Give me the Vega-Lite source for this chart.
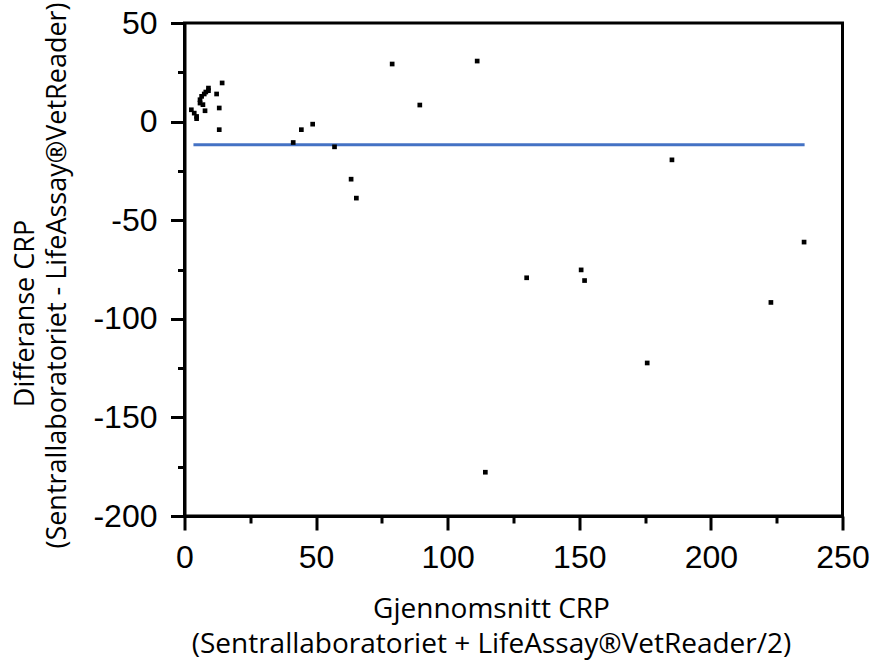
{
  "$schema": "https://vega.github.io/schema/vega-lite/v6.json",
  "autosize": "none",
  "width": 658,
  "height": 493,
  "padding": {"left": 184.5, "top": 23, "right": 33.5, "bottom": 152},
  "background": "white",
  "config": {
    "view": {"stroke": "black", "strokeWidth": 3},
    "axis": {
      "domainColor": "black",
      "domainWidth": 3,
      "tickColor": "black",
      "tickWidth": 3,
      "grid": false,
      "labelFont": "Liberation Sans",
      "labelFontSize": 32,
      "labelColor": "black",
      "titleFont": "Open Sans",
      "titleFontWeight": "normal",
      "titleColor": "black"
    }
  },
  "datasets": {
    "points": [
      {"mean_crp": 2.6, "diff_crp": 6.0},
      {"mean_crp": 3.7, "diff_crp": 4.3},
      {"mean_crp": 4.6, "diff_crp": 2.6},
      {"mean_crp": 4.6, "diff_crp": 1.5},
      {"mean_crp": 5.9, "diff_crp": 11.1},
      {"mean_crp": 5.9, "diff_crp": 9.4},
      {"mean_crp": 6.5, "diff_crp": 12.8},
      {"mean_crp": 7.0, "diff_crp": 8.6},
      {"mean_crp": 7.5, "diff_crp": 14.0},
      {"mean_crp": 7.8, "diff_crp": 5.5},
      {"mean_crp": 8.1, "diff_crp": 15.0},
      {"mean_crp": 9.1, "diff_crp": 17.0},
      {"mean_crp": 9.1, "diff_crp": 15.7},
      {"mean_crp": 12.2, "diff_crp": 14.0},
      {"mean_crp": 13.2, "diff_crp": 6.9},
      {"mean_crp": 14.3, "diff_crp": 19.6},
      {"mean_crp": 13.2, "diff_crp": -4.1},
      {"mean_crp": 41.3, "diff_crp": -10.6},
      {"mean_crp": 44.4, "diff_crp": -4.1},
      {"mean_crp": 48.7, "diff_crp": -1.3},
      {"mean_crp": 57.0, "diff_crp": -12.8},
      {"mean_crp": 63.3, "diff_crp": -29.2},
      {"mean_crp": 65.3, "diff_crp": -38.8},
      {"mean_crp": 78.9, "diff_crp": 29.2},
      {"mean_crp": 89.4, "diff_crp": 8.4},
      {"mean_crp": 111.2, "diff_crp": 30.7},
      {"mean_crp": 114.3, "diff_crp": -177.8},
      {"mean_crp": 130.0, "diff_crp": -79.2},
      {"mean_crp": 150.7, "diff_crp": -75.2},
      {"mean_crp": 152.0, "diff_crp": -80.6},
      {"mean_crp": 175.8, "diff_crp": -122.4},
      {"mean_crp": 185.2, "diff_crp": -19.4},
      {"mean_crp": 222.8, "diff_crp": -91.7},
      {"mean_crp": 235.4, "diff_crp": -61.1}
    ],
    "meanline": [
      {"mean_crp": 3.4, "mean_crp_end": 235.6, "diff_crp": -11.7}
    ]
  },
  "resolve": {"axis": {"y": "independent"}},
  "layer": [
    {
      "data": {"name": "meanline"},
      "mark": {"type": "rule", "color": "#4472C4", "strokeWidth": 3},
      "encoding": {
        "x": {
          "field": "mean_crp",
          "type": "quantitative",
          "scale": {"domain": [0, 250], "nice": false, "zero": false},
          "title": ["Gjennomsnitt CRP", "(Sentrallaboratoriet + LifeAssay®VetReader/2)"]
        },
        "x2": {"field": "mean_crp_end"},
        "y": {
          "field": "diff_crp",
          "type": "quantitative",
          "scale": {"domain": [-200, 50], "nice": false, "zero": false},
          "title": "Differanse CRP",
          "axis": {
            "orient": "left",
            "domain": false,
            "ticks": false,
            "labels": false,
            "titleFontSize": 27,
            "titleAngle": -90,
            "titleAlign": "center",
            "titleBaseline": "alphabetic",
            "titleX": -151,
            "titleY": 290
          }
        }
      }
    },
    {
      "data": {"name": "points"},
      "mark": {"type": "square", "color": "black", "filled": true, "opacity": 1, "size": 22},
      "encoding": {
        "x": {
          "field": "mean_crp",
          "type": "quantitative",
          "scale": {"domain": [0, 250], "nice": false, "zero": false},
          "title": ["Gjennomsnitt CRP", "(Sentrallaboratoriet + LifeAssay®VetReader/2)"],
          "axis": {
            "values": [0, 25, 50, 75, 100, 125, 150, 175, 200, 225, 250],
            "labelExpr": "datum.value % 50 === 0 ? toString(datum.value) : ''",
            "tickSize": {"condition": {"test": "datum.value % 50 !== 0", "value": 7}, "value": 14},
            "labelPadding": 12,
            "labelFlush": false,
            "labelOverlap": false,
            "titleFontSize": 28,
            "titleLineHeight": 35,
            "titleAlign": "center",
            "titleBaseline": "alphabetic",
            "titleX": 306.5,
            "titleY": 101
          }
        },
        "y": {
          "field": "diff_crp",
          "type": "quantitative",
          "scale": {"domain": [-200, 50], "nice": false, "zero": false},
          "title": "(Sentrallaboratoriet - LifeAssay®VetReader)",
          "axis": {
            "orient": "left",
            "values": [-200, -175, -150, -125, -100, -75, -50, -25, 0, 25, 50],
            "labelExpr": "datum.value % 50 === 0 ? toString(datum.value) : ''",
            "tickSize": {"condition": {"test": "datum.value % 50 !== 0", "value": 7}, "value": 14},
            "labelPadding": 13.5,
            "labelFlush": false,
            "labelOverlap": false,
            "titleFontSize": 27,
            "titleAngle": -90,
            "titleAlign": "center",
            "titleBaseline": "alphabetic",
            "titleX": -119.5,
            "titleY": 252
          }
        }
      }
    }
  ]
}
